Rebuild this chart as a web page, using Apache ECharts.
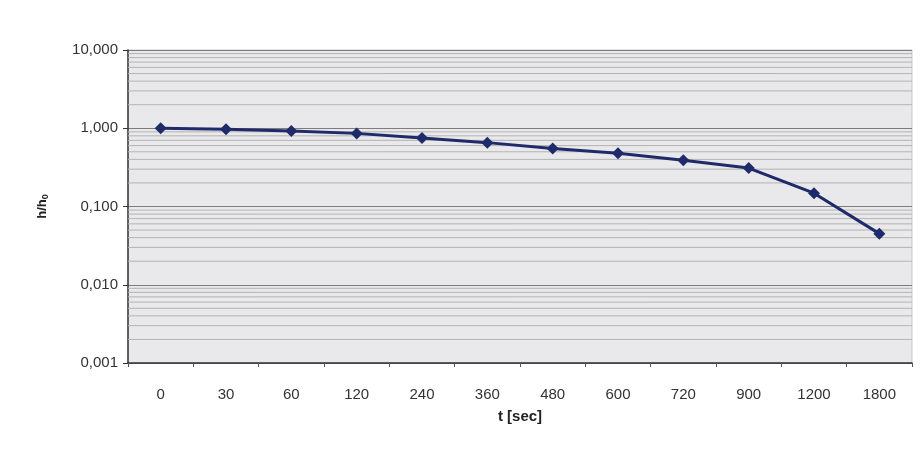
<!DOCTYPE html>
<html>
<head>
<meta charset="utf-8">
<script src="https://cdn.jsdelivr.net/npm/echarts@6/dist/echarts.min.js"></script>
<style>
  html, body { margin: 0; padding: 0; background: #fff; }
  #main { width: 924px; height: 457px; }
</style>
</head>
<body>
<div id="main"></div>
<script>
// 数据
var categories = ['0', '30', '60', '120', '240', '360', '480', '600', '720', '900', '1200', '1800'];
var ratio = [1.0, 0.97, 0.92, 0.86, 0.75, 0.655, 0.55, 0.48, 0.39, 0.31, 0.148, 0.045];

// 对数副网格线 (每个数量级 2..9)
var decades = [0.001, 0.01, 0.1, 1];
var minorValues = [];
decades.forEach(function (d) {
    for (var k = 2; k <= 9; k++) {
        minorValues.push([0, +(d * k).toPrecision(3)]);
    }
});

var myChart = echarts.init(document.getElementById('main'));

var option = {
    backgroundColor: '#ffffff',
    textStyle: { fontFamily: 'Liberation Sans, Arial, sans-serif' },
    grid: {
        left: 128,
        right: 12,
        top: 50,
        bottom: 94,
        show: true,
        backgroundColor: '#e9e8ea',
        borderColor: '#c8c8c8',
        borderWidth: 1
    },
    xAxis: {
        type: 'category',
        data: categories,
        boundaryGap: true,
        name: 't [sec]',
        nameLocation: 'middle',
        nameGap: 46,
        nameTextStyle: { fontSize: 15, fontWeight: 'bold', color: '#222' },
        axisLine: { lineStyle: { color: '#333', width: 1.5 } },
        axisTick: { show: true, length: 4, lineStyle: { color: '#555' } },
        axisLabel: { margin: 24, fontSize: 15, color: '#333' },
        splitLine: { show: false }
    },
    yAxis: {
        type: 'log',
        logBase: 10,
        min: 0.001,
        max: 10,
        name: '{a|h/h}{b|0}',
        nameLocation: 'middle',
        nameRotate: 90,
        nameGap: 78,
        nameTextStyle: {
            rich: {
                a: { fontSize: 13, fontWeight: 'bold', color: '#222' },
                b: { fontSize: 9, fontWeight: 'bold', color: '#222', padding: [6, 0, 0, 0] }
            }
        },
        axisLine: { show: true, lineStyle: { color: '#333', width: 1.5 } },
        axisTick: { show: true, length: 5, lineStyle: { color: '#333' } },
        axisLabel: {
            margin: 10,
            fontSize: 15,
            color: '#333',
            formatter: function (v) {
                return v.toFixed(3).replace('.', ',');
            }
        },
        splitLine: { show: true, lineStyle: { color: '#7d7d7d', width: 1 } }
    },
    series: [
        {
            // 副网格线
            type: 'custom',
            silent: true,
            z: 1,
            data: minorValues,
            encode: { x: 0, y: 1 },
            renderItem: function (params, api) {
                var cs = params.coordSys;
                var y = api.coord([0, api.value(1)])[1];
                return {
                    type: 'line',
                    shape: { x1: cs.x, y1: y, x2: cs.x + cs.width, y2: y },
                    style: { stroke: '#b4b4b4', lineWidth: 1 }
                };
            }
        },
        {
            type: 'line',
            z: 3,
            data: ratio,
            symbol: 'diamond',
            symbolSize: 12,
            lineStyle: { color: '#1f2a6b', width: 3 },
            itemStyle: { color: '#1f2a6b' }
        }
    ]
};

myChart.setOption(option);
</script>
</body>
</html>
